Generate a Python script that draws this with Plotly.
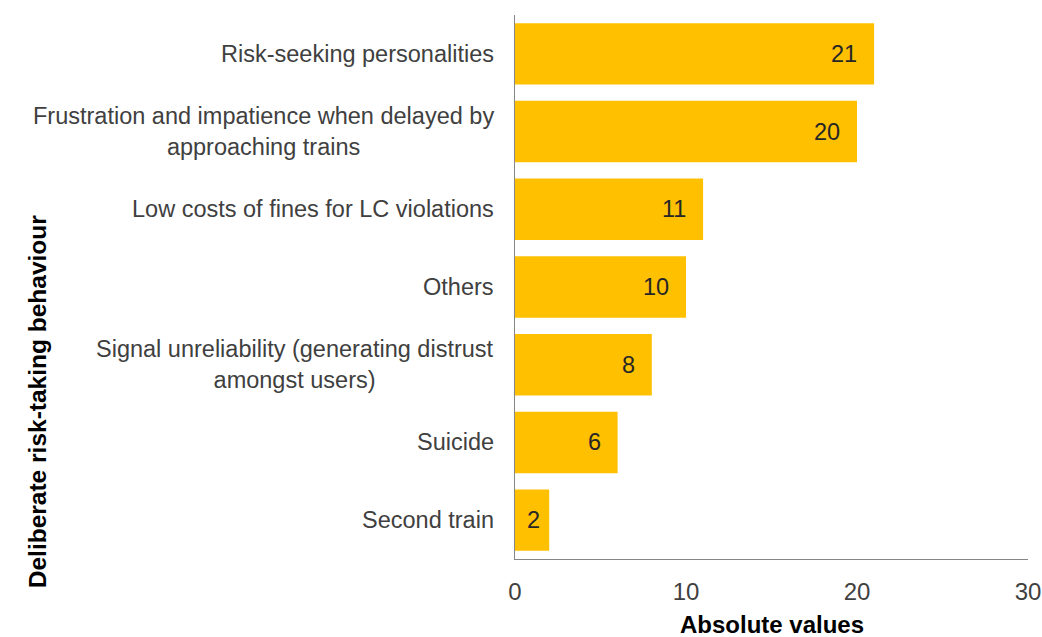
import plotly.graph_objects as go

# Reasons for deliberate risk-taking at level crossings (top to bottom)
categories = [
    "Risk-seeking personalities",
    "Frustration and impatience when delayed by<br>approaching trains",
    "Low costs of fines for LC violations",
    "Others",
    "Signal unreliability (generating distrust<br>amongst users)",
    "Suicide",
    "Second train",
]
values = [21, 20, 11, 10, 8, 6, 2]
x_ticks = [0, 10, 20, 30]

FONT = "Liberation Sans, Arial, sans-serif"
BAR_COLOR = "#FFC000"
TEXT_COLOR = "#404040"
AXIS_COLOR = "#868686"

fig = go.Figure(
    go.Bar(
        x=values,
        y=categories,
        orientation="h",
        marker=dict(color=BAR_COLOR, line=dict(width=0)),
        hoverinfo="skip",
    )
)

annotations = []
# value labels, inside the bar end (tighter padding on very short bars)
for cat, v in zip(categories, values):
    annotations.append(dict(
        x=v, y=cat, xref="x", yref="y",
        text=str(v), showarrow=False,
        xanchor="right", yanchor="middle",
        xshift=-15 if v >= 5 else -7,
        font=dict(family=FONT, size=23.5, color="#262626"),
    ))
# category labels, centred lines, right-aligned against the axis
for cat in categories:
    annotations.append(dict(
        x=0, y=cat, xref="paper", yref="y",
        text=cat, showarrow=False, align="center",
        xanchor="right", yanchor="middle", xshift=-19,
        font=dict(family=FONT, size=23.5, color=TEXT_COLOR),
    ))
# axis titles
annotations.append(dict(
    x=0.5, y=-0.12, xref="paper", yref="paper",
    text="<b>Absolute values</b>", showarrow=False,
    xanchor="center", yanchor="middle",
    font=dict(family=FONT, size=24, color="#000000"),
))
annotations.append(dict(
    x=0, y=0.29, xref="paper", yref="paper", xshift=-478,
    text="<b>Deliberate risk-taking behaviour</b>", showarrow=False,
    textangle=-90, xanchor="center", yanchor="middle",
    font=dict(family=FONT, size=24.5, color="#000000"),
))

fig.update_layout(
    width=1042,
    height=637,
    margin=dict(l=515, r=14, t=15, b=78, autoexpand=False),
    paper_bgcolor="white",
    plot_bgcolor="white",
    showlegend=False,
    bargap=0.21,
    annotations=annotations,
    font=dict(family=FONT, size=23.5, color=TEXT_COLOR),
)
fig.update_xaxes(
    range=[0, 30],
    tickvals=x_ticks,
    ticktext=[str(t) for t in x_ticks],
    showgrid=False,
    zeroline=False,
    showline=True,
    linecolor=AXIS_COLOR,
    linewidth=1,
    ticks="outside",
    ticklen=11,
    tickcolor="rgba(0,0,0,0)",
    tickfont=dict(family=FONT, size=24, color=TEXT_COLOR),
    automargin=False,
)
fig.update_yaxes(
    autorange="reversed",
    showticklabels=False,
    showgrid=False,
    zeroline=False,
    showline=True,
    linecolor=AXIS_COLOR,
    linewidth=1,
    ticks="",
    automargin=False,
)

fig.write_html("out.html")
